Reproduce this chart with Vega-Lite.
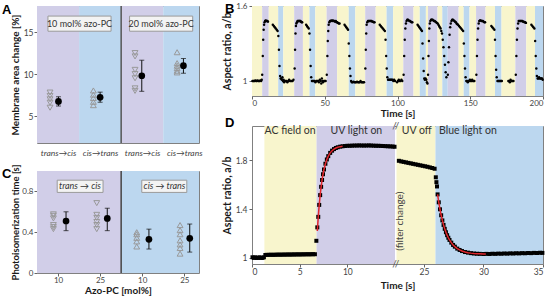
{
"$schema": "https://vega.github.io/schema/vega-lite/v6.json",
"background": "white",
"padding": {"left": 1, "top": 1, "right": 0, "bottom": 0},
"config": {
  "font": "Lato",
  "view": {"stroke": "#808080", "strokeWidth": 1},
  "axis": {"grid": false, "domain": false, "labelColor": "#444", "titleColor": "#1a1a1a", "titleFontWeight": "bold", "tickColor": "#666", "labelFont": "Lato", "titleFont": "Lato", "labelOverlap": false}
},
"datasets": {
  "abands": [{"x0":0,"x1":1,"light":"UV"},{"x0":1,"x1":2,"light":"Blue"},{"x0":2,"x1":3,"light":"UV"},{"x0":3,"x1":3.85,"light":"Blue"}],
  "cbands": [{"x0":0,"x1":2,"light":"UV"},{"x0":2,"x1":3.85,"light":"Blue"}],
  "aboxes": [{"x0":0.26,"x1":1.76,"y0":15.1,"y1":16.9,"xc":1.01,"yc":16.0,"label":"10 mol% azo-PC"},{"x0":2.2,"x1":3.7,"y0":15.1,"y1":16.9,"xc":2.95,"yc":16.0,"label":"20 mol% azo-PC"}],
  "cboxes": [{"x0":0.48,"x1":1.57,"y0":0.79,"y1":0.91,"xc":1.02,"yc":0.85,"label":"trans → cis"},{"x0":2.49,"x1":3.56,"y0":0.79,"y1":0.91,"xc":3.03,"yc":0.85,"label":"cis → trans"}],
  "atri": [
    {"x":0.31,"v":7.8,"dir":"down"},{"x":0.31,"v":7.4,"dir":"down"},{"x":0.31,"v":7.0,"dir":"down"},{"x":0.31,"v":6.6,"dir":"down"},{"x":0.31,"v":6.0,"dir":"down"},
    {"x":1.34,"v":8.05,"dir":"up"},{"x":1.34,"v":7.55,"dir":"up"},{"x":1.34,"v":7.15,"dir":"up"},{"x":1.34,"v":6.7,"dir":"up"},{"x":1.34,"v":6.3,"dir":"up"},
    {"x":2.33,"v":12.5,"dir":"down"},{"x":2.33,"v":12.1,"dir":"down"},{"x":2.33,"v":10.5,"dir":"down"},{"x":2.33,"v":10.0,"dir":"down"},{"x":2.33,"v":9.5,"dir":"down"},{"x":2.33,"v":8.3,"dir":"down"},{"x":2.33,"v":8.0,"dir":"down"},
    {"x":3.33,"v":12.6,"dir":"up"},{"x":3.33,"v":11.3,"dir":"up"},{"x":3.33,"v":11.0,"dir":"up"},{"x":3.33,"v":10.7,"dir":"up"},{"x":3.33,"v":10.4,"dir":"up"},{"x":3.33,"v":10.2,"dir":"up"}
  ],
  "amean": [{"x":0.51,"m":6.75,"lo":6.2,"hi":7.3},{"x":1.5,"m":7.23,"lo":6.65,"hi":7.85},{"x":2.49,"m":9.8,"lo":7.95,"hi":11.65},{"x":3.48,"m":11.0,"lo":10.1,"hi":11.85}],
  "ctri": [
    {"x":0.39,"v":0.575,"dir":"down"},{"x":0.39,"v":0.56,"dir":"down"},{"x":0.39,"v":0.535,"dir":"down"},{"x":0.39,"v":0.47,"dir":"down"},{"x":0.39,"v":0.45,"dir":"down"},{"x":0.39,"v":0.43,"dir":"down"},
    {"x":1.42,"v":0.685,"dir":"down"},{"x":1.42,"v":0.57,"dir":"down"},{"x":1.42,"v":0.54,"dir":"down"},{"x":1.42,"v":0.5,"dir":"down"},{"x":1.42,"v":0.47,"dir":"down"},{"x":1.42,"v":0.43,"dir":"down"},
    {"x":2.37,"v":0.4,"dir":"up"},{"x":2.37,"v":0.38,"dir":"up"},{"x":2.37,"v":0.345,"dir":"up"},{"x":2.37,"v":0.31,"dir":"up"},{"x":2.37,"v":0.26,"dir":"up"},
    {"x":3.4,"v":0.47,"dir":"up"},{"x":3.4,"v":0.42,"dir":"up"},{"x":3.4,"v":0.38,"dir":"up"},{"x":3.4,"v":0.32,"dir":"up"},{"x":3.4,"v":0.28,"dir":"up"},{"x":3.4,"v":0.245,"dir":"up"},{"x":3.4,"v":0.19,"dir":"up"}
  ],
  "cmean": [{"x":0.69,"m":0.51,"lo":0.415,"hi":0.6},{"x":1.67,"m":0.535,"lo":0.415,"hi":0.635},{"x":2.66,"m":0.33,"lo":0.235,"hi":0.43},{"x":3.63,"m":0.34,"lo":0.205,"hi":0.48}],
  "bbands": [
    {"t0":0,"t1":7,"light":"AC"},{"t0":7,"t1":11.5,"light":"UV"},{"t0":11.5,"t1":18,"light":"AC"},{"t0":18,"t1":21.5,"light":"Blue"},
    {"t0":21.5,"t1":29,"light":"AC"},{"t0":29,"t1":35,"light":"UV"},{"t0":35,"t1":39.5,"light":"AC"},{"t0":39.5,"t1":43.5,"light":"Blue"},
    {"t0":43.5,"t1":51.3,"light":"AC"},{"t0":51.3,"t1":58.5,"light":"UV"},{"t0":58.5,"t1":66.5,"light":"AC"},{"t0":66.5,"t1":71,"light":"Blue"},
    {"t0":71,"t1":77.8,"light":"AC"},{"t0":77.8,"t1":85,"light":"UV"},{"t0":85,"t1":92.5,"light":"AC"},{"t0":92.5,"t1":97,"light":"Blue"},
    {"t0":97,"t1":104,"light":"AC"},{"t0":104,"t1":111,"light":"UV"},{"t0":111,"t1":115.3,"light":"AC"},{"t0":115.3,"t1":119.5,"light":"Blue"},
    {"t0":119.5,"t1":121,"light":"AC"},{"t0":121,"t1":127.5,"light":"UV"},{"t0":127.5,"t1":130.8,"light":"AC"},{"t0":130.8,"t1":134.5,"light":"Blue"},
    {"t0":134.5,"t1":142,"light":"UV"},{"t0":142,"t1":145.5,"light":"AC"},{"t0":145.5,"t1":149.5,"light":"Blue"},
    {"t0":149.5,"t1":154,"light":"AC"},{"t0":154,"t1":160.5,"light":"UV"},{"t0":160.5,"t1":167,"light":"AC"},{"t0":167,"t1":171.5,"light":"Blue"},
    {"t0":171.5,"t1":181,"light":"AC"},{"t0":181,"t1":188.5,"light":"UV"},{"t0":188.5,"t1":194.5,"light":"AC"},{"t0":194.5,"t1":200,"light":"Blue"}
  ],
  "bpts": [
    {"t":0.3,"r":1.0},{"t":0.8,"r":1.0},{"t":1.3,"r":1.0},{"t":1.8,"r":1.0},{"t":2.3,"r":1.005},{"t":2.8,"r":1.0},{"t":3.3,"r":1.0},{"t":3.8,"r":1.005},{"t":4.3,"r":1.0},{"t":4.8,"r":1.0},{"t":5.3,"r":1.0},{"t":5.8,"r":1.005},{"t":6.3,"r":1.0},{"t":6.7,"r":1.01},
    {"t":7.0,"r":1.05},{"t":7.4,"r":1.2},{"t":7.7,"r":1.33},{"t":8.0,"r":1.41},{"t":8.3,"r":1.45},{"t":8.6,"r":1.47},
    {"t":9.0,"r":1.48},{"t":9.4,"r":1.485},{"t":9.8,"r":1.48},{"t":10.2,"r":1.48},{"t":10.6,"r":1.48},{"t":11.0,"r":1.475},
    {"t":14.3,"r":1.45},{"t":15.0,"r":1.44},{"t":15.7,"r":1.43},{"t":16.3,"r":1.42},{"t":17.0,"r":1.41},{"t":17.6,"r":1.4},
    {"t":18.1,"r":1.36},{"t":18.5,"r":1.25},{"t":18.9,"r":1.12},{"t":19.3,"r":1.04},{"t":19.7,"r":1.02},
    {"t":20.1,"r":1.02},{"t":20.5,"r":1.01},{"t":20.9,"r":1.03},{"t":21.3,"r":1.0},{"t":21.7,"r":1.01},{"t":22.1,"r":0.99},{"t":22.5,"r":1.0},{"t":23.1,"r":1.0},{"t":23.7,"r":1.0},{"t":24.3,"r":0.99},{"t":24.9,"r":1.0},{"t":25.5,"r":1.01},{"t":26.1,"r":1.0},{"t":26.7,"r":1.0},{"t":27.3,"r":1.0},{"t":27.9,"r":1.0},{"t":28.5,"r":1.01},
    {"t":29.3,"r":1.1},{"t":29.6,"r":1.25},{"t":29.9,"r":1.38},{"t":30.2,"r":1.44},{"t":30.5,"r":1.46},
    {"t":30.9,"r":1.47},{"t":31.3,"r":1.48},{"t":31.7,"r":1.48},{"t":32.1,"r":1.48},{"t":32.5,"r":1.48},{"t":32.9,"r":1.48},{"t":33.3,"r":1.48},{"t":33.7,"r":1.475},{"t":34.1,"r":1.47},{"t":34.5,"r":1.47},
    {"t":37.2,"r":1.45},{"t":37.8,"r":1.44},{"t":38.4,"r":1.43},{"t":39.0,"r":1.42},
    {"t":39.5,"r":1.38},{"t":39.9,"r":1.25},{"t":40.3,"r":1.12},{"t":40.7,"r":1.03},
    {"t":41.2,"r":1.0},{"t":41.8,"r":1.0},{"t":42.4,"r":1.0},{"t":43.0,"r":1.0},{"t":43.6,"r":0.99},{"t":44.2,"r":1.0},{"t":44.8,"r":1.0},{"t":45.4,"r":1.0},{"t":46.0,"r":0.99},{"t":46.6,"r":1.01},{"t":47.2,"r":1.0},{"t":47.6,"r":0.98},{"t":48.0,"r":1.02},{"t":48.4,"r":1.0},{"t":48.8,"r":0.99},{"t":49.4,"r":1.0},{"t":50.0,"r":1.0},{"t":50.6,"r":1.0},
    {"t":51.4,"r":1.05},{"t":51.8,"r":1.2},{"t":52.1,"r":1.32},{"t":52.4,"r":1.4},{"t":52.7,"r":1.45},
    {"t":53.1,"r":1.47},{"t":53.6,"r":1.48},{"t":54.1,"r":1.48},{"t":54.6,"r":1.485},{"t":55.1,"r":1.48},{"t":55.6,"r":1.485},{"t":56.1,"r":1.48},{"t":56.6,"r":1.48},{"t":57.1,"r":1.475},{"t":57.6,"r":1.48},{"t":58.1,"r":1.47},{"t":58.6,"r":1.47},{"t":59.1,"r":1.465},{"t":59.6,"r":1.46},{"t":60.2,"r":1.46},
    {"t":63.6,"r":1.45},{"t":64.2,"r":1.44},{"t":64.8,"r":1.43},{"t":65.4,"r":1.42},{"t":66.0,"r":1.41},
    {"t":66.5,"r":1.3},{"t":66.9,"r":1.2},{"t":67.3,"r":1.1},{"t":67.7,"r":1.04},{"t":68.1,"r":1.0},
    {"t":68.6,"r":0.99},{"t":69.2,"r":0.99},{"t":69.8,"r":0.995},{"t":70.4,"r":0.99},{"t":71.0,"r":0.99},{"t":71.6,"r":0.99},{"t":72.2,"r":0.995},{"t":72.8,"r":0.99},{"t":73.4,"r":0.99},{"t":74.0,"r":0.99},{"t":74.6,"r":1.0},{"t":75.2,"r":0.99},{"t":75.8,"r":0.99},{"t":76.4,"r":0.99},{"t":77.0,"r":0.99},
    {"t":77.9,"r":1.1},{"t":78.2,"r":1.25},{"t":78.5,"r":1.38},{"t":78.8,"r":1.45},
    {"t":79.2,"r":1.47},{"t":79.7,"r":1.48},{"t":80.2,"r":1.48},{"t":80.7,"r":1.48},{"t":81.2,"r":1.48},{"t":81.7,"r":1.48},{"t":82.2,"r":1.48},{"t":82.7,"r":1.475},{"t":83.2,"r":1.475},{"t":83.7,"r":1.47},{"t":84.2,"r":1.47},
    {"t":87.8,"r":1.45},{"t":88.5,"r":1.44},{"t":89.2,"r":1.43},{"t":89.9,"r":1.42},{"t":90.6,"r":1.41},{"t":91.3,"r":1.4},
    {"t":91.8,"r":1.33},{"t":92.2,"r":1.2},{"t":92.6,"r":1.1},{"t":93.0,"r":1.03},
    {"t":93.5,"r":1.01},{"t":94.1,"r":1.01},{"t":94.7,"r":1.01},{"t":95.3,"r":1.01},{"t":95.9,"r":1.01},{"t":96.5,"r":1.01},{"t":97.1,"r":1.0},{"t":97.7,"r":1.01},{"t":98.3,"r":1.0},{"t":99.7,"r":0.99},{"t":100.3,"r":1.0},{"t":100.9,"r":1.01},{"t":101.5,"r":1.0},{"t":102.1,"r":1.0},{"t":102.7,"r":1.01},{"t":103.3,"r":1.0},
    {"t":104.2,"r":1.05},{"t":104.6,"r":1.2},{"t":105.0,"r":1.33},{"t":105.4,"r":1.42},{"t":105.8,"r":1.46},
    {"t":106.2,"r":1.48},{"t":106.7,"r":1.49},{"t":107.2,"r":1.49},{"t":107.7,"r":1.485},{"t":108.2,"r":1.48},{"t":108.7,"r":1.48},{"t":109.2,"r":1.475},{"t":109.7,"r":1.47},{"t":110.2,"r":1.47},
    {"t":113.8,"r":1.45},{"t":114.4,"r":1.44},{"t":115.0,"r":1.43},{"t":115.6,"r":1.42},{"t":116.2,"r":1.41},{"t":116.8,"r":1.4},
    {"t":117.2,"r":1.3},{"t":117.6,"r":1.18},{"t":118.0,"r":1.08},{"t":118.4,"r":1.02},
    {"t":118.8,"r":1.01},{"t":119.3,"r":1.02},{"t":119.8,"r":1.01},{"t":120.2,"r":0.99},{"t":120.6,"r":0.98},
    {"t":121.0,"r":1.05},{"t":121.3,"r":1.2},{"t":121.6,"r":1.32},{"t":121.9,"r":1.42},{"t":122.2,"r":1.46},
    {"t":122.6,"r":1.48},{"t":123.1,"r":1.49},{"t":123.6,"r":1.49},{"t":124.1,"r":1.49},{"t":124.6,"r":1.485},{"t":125.1,"r":1.48},{"t":125.6,"r":1.48},{"t":126.1,"r":1.475},{"t":126.6,"r":1.47},{"t":127.1,"r":1.465},
    {"t":127.6,"r":1.46},{"t":128.1,"r":1.45},{"t":128.6,"r":1.44},{"t":129.1,"r":1.43},{"t":129.6,"r":1.42},{"t":130.1,"r":1.4},{"t":130.6,"r":1.38},
    {"t":131.1,"r":1.33},{"t":131.6,"r":1.27},{"t":132.1,"r":1.2},{"t":132.6,"r":1.13},{"t":133.1,"r":1.07},{"t":133.6,"r":1.03},
    {"t":134.6,"r":1.05},{"t":135.0,"r":1.15},{"t":135.4,"r":1.27},{"t":135.8,"r":1.37},{"t":136.2,"r":1.43},{"t":136.6,"r":1.46},
    {"t":137.1,"r":1.48},{"t":137.6,"r":1.49},{"t":138.1,"r":1.49},{"t":138.6,"r":1.485},{"t":139.1,"r":1.48},{"t":139.6,"r":1.475},{"t":140.1,"r":1.47},{"t":140.6,"r":1.46},{"t":141.1,"r":1.455},{"t":141.6,"r":1.45},
    {"t":142.3,"r":1.44},{"t":143.0,"r":1.43},{"t":143.7,"r":1.42},{"t":144.4,"r":1.41},{"t":145.1,"r":1.4},
    {"t":145.6,"r":1.3},{"t":146.0,"r":1.2},{"t":146.4,"r":1.1},{"t":146.8,"r":1.03},
    {"t":147.3,"r":1.0},{"t":147.8,"r":1.0},{"t":148.3,"r":0.99},{"t":148.8,"r":1.0},{"t":149.3,"r":1.0},{"t":149.8,"r":1.01},{"t":150.3,"r":1.0},{"t":150.8,"r":1.0},{"t":151.3,"r":1.01},{"t":151.8,"r":1.0},{"t":152.3,"r":1.0},{"t":152.8,"r":1.0},
    {"t":154.2,"r":1.05},{"t":154.6,"r":1.2},{"t":155.0,"r":1.33},{"t":155.4,"r":1.42},{"t":155.8,"r":1.46},
    {"t":156.2,"r":1.48},{"t":156.7,"r":1.485},{"t":157.2,"r":1.485},{"t":157.7,"r":1.48},{"t":158.2,"r":1.48},{"t":158.7,"r":1.48},{"t":159.2,"r":1.475},{"t":159.7,"r":1.47},{"t":160.2,"r":1.47},
    {"t":164.5,"r":1.44},{"t":165.2,"r":1.43},{"t":165.9,"r":1.42},{"t":166.6,"r":1.41},
    {"t":167.0,"r":1.33},{"t":167.4,"r":1.2},{"t":167.8,"r":1.09},{"t":168.2,"r":1.03},
    {"t":168.7,"r":1.0},{"t":169.2,"r":1.0},{"t":169.7,"r":1.0},{"t":170.2,"r":1.0},{"t":170.7,"r":1.0},{"t":171.2,"r":1.0},{"t":171.7,"r":1.0},
    {"t":176.2,"r":1.0},{"t":176.7,"r":1.0},{"t":177.2,"r":0.99},{"t":177.7,"r":1.01},{"t":178.2,"r":1.0},{"t":178.7,"r":1.0},{"t":179.2,"r":1.0},{"t":179.7,"r":1.0},
    {"t":181.3,"r":1.05},{"t":181.7,"r":1.2},{"t":182.1,"r":1.33},{"t":182.5,"r":1.42},{"t":182.9,"r":1.46},
    {"t":183.3,"r":1.48},{"t":183.8,"r":1.48},{"t":184.3,"r":1.48},{"t":184.8,"r":1.48},{"t":185.3,"r":1.48},{"t":185.8,"r":1.48},{"t":186.3,"r":1.475},{"t":186.8,"r":1.475},{"t":187.3,"r":1.47},{"t":187.8,"r":1.47},{"t":188.3,"r":1.465},
    {"t":192.0,"r":1.45},{"t":192.7,"r":1.44},{"t":193.4,"r":1.43},{"t":194.1,"r":1.42},
    {"t":194.6,"r":1.32},{"t":195.0,"r":1.2},{"t":195.4,"r":1.1},{"t":195.8,"r":1.04},
    {"t":196.3,"r":1.02},{"t":196.8,"r":1.02},{"t":197.3,"r":1.03},{"t":197.8,"r":1.02},{"t":198.3,"r":1.02},{"t":198.8,"r":1.02},{"t":199.3,"r":1.02},{"t":199.8,"r":1.01}
  ],
  "dbands": [{"t0":1.3,"t1":6.77,"light":"AC"},{"t0":6.77,"t1":15,"light":"UV"},{"t0":22.7,"t1":25.97,"light":"AC"},{"t0":25.97,"t1":35,"light":"Blue"}],
  "dpts": [
    {"t":0.05,"r":1.005},{"t":0.2,"r":1.0},{"t":0.35,"r":1.005},{"t":0.5,"r":1.0},{"t":0.65,"r":1.0},{"t":0.8,"r":1.005},{"t":0.95,"r":1.0},{"t":1.1,"r":1.0},{"t":1.25,"r":1.005},
    {"t":1.4,"r":1.024},{"t":1.6,"r":1.025},{"t":1.8,"r":1.025},{"t":2.0,"r":1.026},{"t":2.2,"r":1.025},{"t":2.4,"r":1.026},{"t":2.6,"r":1.026},{"t":2.8,"r":1.027},{"t":3.0,"r":1.026},{"t":3.2,"r":1.027},{"t":3.4,"r":1.027},{"t":3.6,"r":1.027},{"t":3.8,"r":1.028},{"t":4.0,"r":1.027},{"t":4.2,"r":1.028},{"t":4.4,"r":1.028},{"t":4.6,"r":1.028},{"t":4.8,"r":1.029},{"t":5.0,"r":1.028},{"t":5.2,"r":1.029},{"t":5.4,"r":1.029},{"t":5.6,"r":1.029},{"t":5.8,"r":1.03},{"t":6.0,"r":1.029},{"t":6.2,"r":1.03},{"t":6.4,"r":1.03},{"t":6.6,"r":1.03},
    {"t":6.75,"r":1.14},{"t":6.85,"r":1.25},{"t":6.95,"r":1.336},{"t":7.05,"r":1.434},{"t":7.15,"r":1.514},{"t":7.25,"r":1.582},{"t":7.35,"r":1.638},{"t":7.45,"r":1.685},{"t":7.55,"r":1.724},{"t":7.7,"r":1.771},{"t":7.85,"r":1.806},{"t":8.0,"r":1.833},{"t":8.2,"r":1.86},{"t":8.4,"r":1.878},{"t":8.6,"r":1.891},{"t":8.8,"r":1.9},{"t":9.0,"r":1.906},{"t":9.25,"r":1.911},{"t":9.5,"r":1.914},{"t":9.75,"r":1.916},{"t":10.0,"r":1.918},
    {"t":10.25,"r":1.918},{"t":10.5,"r":1.919},{"t":10.75,"r":1.92},{"t":11.0,"r":1.92},{"t":11.25,"r":1.921},{"t":11.5,"r":1.92},{"t":11.75,"r":1.92},{"t":12.0,"r":1.92},{"t":12.25,"r":1.921},{"t":12.5,"r":1.92},{"t":12.75,"r":1.919},{"t":13.0,"r":1.918},{"t":13.25,"r":1.918},{"t":13.5,"r":1.917},{"t":13.75,"r":1.916},{"t":14.0,"r":1.915},{"t":14.25,"r":1.914},{"t":14.5,"r":1.913},{"t":14.75,"r":1.912},{"t":14.95,"r":1.91},
    {"t":22.9,"r":1.795},{"t":23.1,"r":1.79},{"t":23.3,"r":1.786},{"t":23.5,"r":1.782},{"t":23.7,"r":1.778},{"t":23.9,"r":1.774},{"t":24.1,"r":1.77},{"t":24.3,"r":1.766},{"t":24.5,"r":1.762},{"t":24.7,"r":1.758},{"t":24.9,"r":1.754},{"t":25.1,"r":1.75},{"t":25.3,"r":1.746},{"t":25.5,"r":1.741},{"t":25.7,"r":1.736},{"t":25.9,"r":1.73},
    {"t":26.0,"r":1.66},{"t":26.05,"r":1.62},{"t":26.1,"r":1.585},{"t":26.15,"r":1.52},{"t":26.25,"r":1.455},{"t":26.35,"r":1.398},{"t":26.45,"r":1.349},{"t":26.55,"r":1.307},{"t":26.65,"r":1.27},{"t":26.75,"r":1.238},{"t":26.85,"r":1.21},{"t":26.95,"r":1.186},{"t":27.05,"r":1.165},{"t":27.15,"r":1.147},{"t":27.3,"r":1.125},{"t":27.45,"r":1.106},{"t":27.6,"r":1.092},{"t":27.8,"r":1.076},{"t":28.0,"r":1.065},{"t":28.2,"r":1.056},{"t":28.45,"r":1.048},{"t":28.7,"r":1.043},{"t":28.95,"r":1.039},{"t":29.2,"r":1.036},{"t":29.45,"r":1.034},{"t":29.7,"r":1.033},{"t":30.0,"r":1.032},
    {"t":30.25,"r":1.033},{"t":30.5,"r":1.032},{"t":30.75,"r":1.034},{"t":31.0,"r":1.033},{"t":31.25,"r":1.035},{"t":31.5,"r":1.034},{"t":31.75,"r":1.036},{"t":32.0,"r":1.035},{"t":32.25,"r":1.037},{"t":32.5,"r":1.036},{"t":32.75,"r":1.038},{"t":33.0,"r":1.037},{"t":33.25,"r":1.039},{"t":33.5,"r":1.038},{"t":33.75,"r":1.04},{"t":34.0,"r":1.039},{"t":34.25,"r":1.041},{"t":34.5,"r":1.04},{"t":34.75,"r":1.042},{"t":34.95,"r":1.041}
  ],
  "dfit": [
    {"seg":"rise","t":6.85,"r":1.22},{"seg":"rise","t":6.95,"r":1.336},{"seg":"rise","t":7.05,"r":1.434},{"seg":"rise","t":7.15,"r":1.514},{"seg":"rise","t":7.25,"r":1.582},{"seg":"rise","t":7.35,"r":1.638},{"seg":"rise","t":7.45,"r":1.685},{"seg":"rise","t":7.55,"r":1.724},{"seg":"rise","t":7.7,"r":1.771},{"seg":"rise","t":7.85,"r":1.806},{"seg":"rise","t":8.0,"r":1.833},{"seg":"rise","t":8.2,"r":1.86},{"seg":"rise","t":8.4,"r":1.878},{"seg":"rise","t":8.6,"r":1.891},{"seg":"rise","t":8.8,"r":1.9},{"seg":"rise","t":9.0,"r":1.906},{"seg":"rise","t":9.25,"r":1.911},{"seg":"rise","t":9.5,"r":1.914},
    {"seg":"fall","t":26.15,"r":1.52},{"seg":"fall","t":26.25,"r":1.455},{"seg":"fall","t":26.35,"r":1.398},{"seg":"fall","t":26.45,"r":1.349},{"seg":"fall","t":26.55,"r":1.307},{"seg":"fall","t":26.65,"r":1.27},{"seg":"fall","t":26.75,"r":1.238},{"seg":"fall","t":26.85,"r":1.21},{"seg":"fall","t":26.95,"r":1.186},{"seg":"fall","t":27.05,"r":1.165},{"seg":"fall","t":27.15,"r":1.147},{"seg":"fall","t":27.3,"r":1.125},{"seg":"fall","t":27.45,"r":1.106},{"seg":"fall","t":27.6,"r":1.092},{"seg":"fall","t":27.8,"r":1.076},{"seg":"fall","t":28.0,"r":1.065},{"seg":"fall","t":28.2,"r":1.056},{"seg":"fall","t":28.45,"r":1.048},{"seg":"fall","t":28.7,"r":1.043},{"seg":"fall","t":28.95,"r":1.039},{"seg":"fall","t":29.2,"r":1.036},{"seg":"fall","t":29.45,"r":1.034},{"seg":"fall","t":29.7,"r":1.033},{"seg":"fall","t":30.0,"r":1.032},{"seg":"fall","t":30.2,"r":1.032}
  ],
  "dlabels": [{"t":4.0,"r":2.037,"label":"AC field on"},{"t":10.95,"r":2.037,"label":"UV light on"},{"t":24.4,"r":2.037,"label":"UV off"},{"t":28.7,"r":2.037,"label":"Blue light on"}],
  "dbreak": [{"t":18.85,"r":2.08},{"t":18.85,"r":0.95}],
  "dnote": [{"t":23.0,"r":1.3,"label":"(filter change)"}]
},
"spacing": 18,
"hconcat": [
  {
    "spacing": 6,
    "vconcat": [
      {
        "width": 162, "height": 137,
        "layer": [
          {"data": {"name": "abands"}, "mark": {"type": "rect"},
           "encoding": {
             "x": {"field": "x0", "type": "quantitative", "title": null, "scale": {"domain": [0, 3.85], "nice": false, "zero": false},
                   "axis": {"values": [0.5, 1.5, 2.5, 3.5], "labelExpr": "(datum.value == 0.5 || datum.value == 2.5) ? 'trans→cis' : 'cis→trans'", "labelFontStyle": "italic", "ticks": false, "labelFontSize": 8.5, "labelPadding": 5}},
             "x2": {"field": "x1"},
             "color": {"field": "light", "type": "nominal", "scale": {"domain": ["AC", "UV", "Blue"], "range": ["#f8f5cd", "#d1cee8", "#bcd7ef"]}, "legend": null}}},
          {"data": {"values": [{"p": "A"}]}, "mark": {"type": "rule", "color": "#555", "strokeWidth": 1.5},
           "encoding": {"x": {"datum": 2, "type": "quantitative", "title": null}}},
          {"data": {"name": "aboxes"}, "mark": {"type": "rect", "fill": "#f3f3f3", "stroke": "#9a9a9a", "strokeWidth": 1},
           "encoding": {
             "x": {"field": "x0", "type": "quantitative", "title": null}, "x2": {"field": "x1"},
             "y": {"field": "y0", "type": "quantitative", "title": "Membrane area change [%]", "scale": {"domain": [1.8, 18.1], "nice": false, "zero": false},
                   "axis": {"values": [5, 10, 15], "tickSize": 3, "labelFontSize": 8.5, "titleFontSize": 10, "labelPadding": 1, "titlePadding": 3}},
             "y2": {"field": "y1"}}},
          {"data": {"name": "aboxes"}, "mark": {"type": "text", "fontSize": 9, "color": "#333"},
           "encoding": {"x": {"field": "xc", "type": "quantitative", "title": null}, "y": {"field": "yc", "type": "quantitative", "title": "Membrane area change [%]"}, "text": {"field": "label"}}},
          {"data": {"name": "atri"}, "mark": {"type": "point", "filled": false, "size": 34, "strokeWidth": 1, "color": "#999", "opacity": 1},
           "encoding": {"x": {"field": "x", "type": "quantitative", "title": null}, "y": {"field": "v", "type": "quantitative", "title": "Membrane area change [%]"},
             "shape": {"field": "dir", "type": "nominal", "scale": {"domain": ["down", "up"], "range": ["triangle-down", "triangle-up"]}, "legend": null}}},
          {"data": {"name": "amean"}, "mark": {"type": "rule", "color": "#111", "strokeWidth": 1},
           "encoding": {"x": {"field": "x", "type": "quantitative", "title": null}, "y": {"field": "lo", "type": "quantitative", "title": "Membrane area change [%]"}, "y2": {"field": "hi"}}},
          {"data": {"name": "amean"}, "mark": {"type": "tick", "orient": "horizontal", "size": 5, "thickness": 1, "color": "#111"},
           "encoding": {"x": {"field": "x", "type": "quantitative", "title": null}, "y": {"field": "lo", "type": "quantitative", "title": "Membrane area change [%]"}}},
          {"data": {"name": "amean"}, "mark": {"type": "tick", "orient": "horizontal", "size": 5, "thickness": 1, "color": "#111"},
           "encoding": {"x": {"field": "x", "type": "quantitative", "title": null}, "y": {"field": "hi", "type": "quantitative", "title": "Membrane area change [%]"}}},
          {"data": {"name": "amean"}, "mark": {"type": "circle", "size": 45, "color": "#000", "opacity": 1},
           "encoding": {"x": {"field": "x", "type": "quantitative", "title": null}, "y": {"field": "m", "type": "quantitative", "title": "Membrane area change [%]"}}},
          {"data": {"values": [{"p": "A"}]}, "mark": {"type": "text", "font": "Liberation Sans", "fontWeight": "bold", "fontSize": 13, "color": "#000", "align": "left", "baseline": "middle", "dx": -35, "dy": 4},
           "encoding": {"x": {"datum": 0, "type": "quantitative", "title": null}, "y": {"datum": 18.1, "type": "quantitative", "title": "Membrane area change [%]"}, "text": {"field": "p"}}}
        ]
      },
      {
        "width": 162, "height": 102,
        "layer": [
          {"data": {"name": "cbands"}, "mark": {"type": "rect"},
           "encoding": {
             "x": {"field": "x0", "type": "quantitative", "title": "Azo-PC [mol%]", "scale": {"domain": [0, 3.85], "nice": false, "zero": false},
                   "axis": {"values": [0.5, 1.5, 2.5, 3.5], "labelExpr": "(datum.value < 1 || (datum.value > 2 && datum.value < 3)) ? '10' : '25'", "tickSize": 3, "labelFontSize": 8, "labelPadding": 0, "titleFontSize": 10, "titlePadding": 1}},
             "x2": {"field": "x1"},
             "color": {"field": "light", "type": "nominal", "scale": {"domain": ["AC", "UV", "Blue"], "range": ["#f8f5cd", "#d1cee8", "#bcd7ef"]}, "legend": null}}},
          {"data": {"values": [{"p": "C"}]}, "mark": {"type": "rule", "color": "#444", "strokeWidth": 1.5},
           "encoding": {"x": {"datum": 2, "type": "quantitative", "title": "Azo-PC [mol%]"}}},
          {"data": {"name": "cboxes"}, "mark": {"type": "rect", "fill": "#f3f3f3", "stroke": "#9a9a9a", "strokeWidth": 1},
           "encoding": {
             "x": {"field": "x0", "type": "quantitative", "title": "Azo-PC [mol%]"}, "x2": {"field": "x1"},
             "y": {"field": "y0", "type": "quantitative", "title": "Photoisomerization time [s]", "scale": {"domain": [0, 1], "nice": false, "zero": false},
                   "axis": {"values": [0, 0.2, 0.4, 0.6, 0.8, 1], "format": "~g", "tickSize": 3, "labelFontSize": 8, "titleFontSize": 9.5, "labelPadding": 1, "titlePadding": 1}},
             "y2": {"field": "y1"}}},
          {"data": {"name": "cboxes"}, "mark": {"type": "text", "fontSize": 9, "fontStyle": "italic", "color": "#333"},
           "encoding": {"x": {"field": "xc", "type": "quantitative", "title": "Azo-PC [mol%]"}, "y": {"field": "yc", "type": "quantitative", "title": "Photoisomerization time [s]"}, "text": {"field": "label"}}},
          {"data": {"name": "ctri"}, "mark": {"type": "point", "filled": false, "size": 34, "strokeWidth": 1, "color": "#999", "opacity": 1},
           "encoding": {"x": {"field": "x", "type": "quantitative", "title": "Azo-PC [mol%]"}, "y": {"field": "v", "type": "quantitative", "title": "Photoisomerization time [s]"},
             "shape": {"field": "dir", "type": "nominal", "scale": {"domain": ["down", "up"], "range": ["triangle-down", "triangle-up"]}, "legend": null}}},
          {"data": {"name": "cmean"}, "mark": {"type": "rule", "color": "#111", "strokeWidth": 1},
           "encoding": {"x": {"field": "x", "type": "quantitative", "title": "Azo-PC [mol%]"}, "y": {"field": "lo", "type": "quantitative", "title": "Photoisomerization time [s]"}, "y2": {"field": "hi"}}},
          {"data": {"name": "cmean"}, "mark": {"type": "tick", "orient": "horizontal", "size": 5, "thickness": 1, "color": "#111"},
           "encoding": {"x": {"field": "x", "type": "quantitative", "title": "Azo-PC [mol%]"}, "y": {"field": "lo", "type": "quantitative", "title": "Photoisomerization time [s]"}}},
          {"data": {"name": "cmean"}, "mark": {"type": "tick", "orient": "horizontal", "size": 5, "thickness": 1, "color": "#111"},
           "encoding": {"x": {"field": "x", "type": "quantitative", "title": "Azo-PC [mol%]"}, "y": {"field": "hi", "type": "quantitative", "title": "Photoisomerization time [s]"}}},
          {"data": {"name": "cmean"}, "mark": {"type": "circle", "size": 45, "color": "#000", "opacity": 1},
           "encoding": {"x": {"field": "x", "type": "quantitative", "title": "Azo-PC [mol%]"}, "y": {"field": "m", "type": "quantitative", "title": "Photoisomerization time [s]"}}},
          {"data": {"values": [{"p": "C"}]}, "mark": {"type": "text", "font": "Liberation Sans", "fontWeight": "bold", "fontSize": 13, "color": "#000", "align": "left", "baseline": "middle", "dx": -35, "dy": 3},
           "encoding": {"x": {"datum": 0, "type": "quantitative", "title": "Azo-PC [mol%]"}, "y": {"datum": 1, "type": "quantitative", "title": "Photoisomerization time [s]"}, "text": {"field": "p"}}}
        ]
      }
    ]
  },
  {
    "spacing": -3,
    "vconcat": [
      {
        "width": 291, "height": 90,
        "layer": [
          {"data": {"name": "bbands"}, "mark": {"type": "rect"},
           "encoding": {
             "x": {"field": "t0", "type": "quantitative", "title": "Time [s]", "scale": {"domain": [0, 200], "nice": false, "zero": false},
                   "axis": {"values": [0, 50, 100, 150, 200], "tickSize": 3, "labelFontSize": 8, "labelPadding": 0, "titleFontSize": 10, "titlePadding": 1}},
             "x2": {"field": "t1"},
             "color": {"field": "light", "type": "nominal", "scale": {"domain": ["AC", "UV", "Blue"], "range": ["#f8f5cd", "#d1cee8", "#bcd7ef"]}, "legend": null}}},
          {"data": {"name": "bpts"}, "mark": {"type": "circle", "size": 6, "color": "#000", "opacity": 1},
           "encoding": {
             "x": {"field": "t", "type": "quantitative", "title": "Time [s]"},
             "y": {"field": "r", "type": "quantitative", "title": "Aspect ratio, a/b", "scale": {"domain": [0.88, 1.6], "nice": false, "zero": false},
                   "axis": {"values": [1, 1.2, 1.4, 1.6], "format": "~g", "tickSize": 3, "labelFontSize": 8, "titleFontSize": 10.5, "labelPadding": 2, "titlePadding": 3}}}},
          {"data": {"values": [{"p": "B"}]}, "mark": {"type": "text", "font": "Liberation Sans", "fontWeight": "bold", "fontSize": 13, "color": "#000", "align": "left", "baseline": "middle", "dx": -27, "dy": 3},
           "encoding": {"x": {"datum": 0, "type": "quantitative", "title": "Time [s]"}, "y": {"datum": 1.6, "type": "quantitative", "title": "Aspect ratio, a/b"}, "text": {"field": "p"}}}
        ]
      },
      {
        "width": 291, "height": 138,
        "layer": [
          {"data": {"name": "dbands"}, "mark": {"type": "rect"},
           "encoding": {
             "x": {"field": "t0", "type": "quantitative", "title": "Time [s]", "scale": {"domain": [0, 15, 22.7, 35], "range": [0, 143, 144.5, 291], "nice": false, "zero": false},
                   "axis": {"values": [0, 5, 10, 25, 30, 35], "tickSize": 3, "labelFontSize": 8.5, "labelPadding": 0, "titleFontSize": 10, "titlePadding": 5}},
             "x2": {"field": "t1"},
             "color": {"field": "light", "type": "nominal", "scale": {"domain": ["AC", "UV", "Blue"], "range": ["#f8f5cd", "#d1cee8", "#bcd7ef"]}, "legend": null}}},
          {"data": {"name": "dpts"}, "mark": {"type": "square", "size": 16, "color": "#000", "opacity": 1},
           "encoding": {
             "x": {"field": "t", "type": "quantitative", "title": "Time [s]"},
             "y": {"field": "r", "type": "quantitative", "title": "Aspect ratio, a/b", "scale": {"domain": [0.95, 2.08], "nice": false, "zero": false},
                   "axis": {"values": [1, 1.2, 1.4, 1.6, 1.8, 2], "format": "~g", "tickSize": 3, "labelFontSize": 8.5, "titleFontSize": 10.5, "labelPadding": 2, "titlePadding": 3}}}},
          {"data": {"name": "dfit"}, "mark": {"type": "line", "color": "#e0262c", "strokeWidth": 1.5},
           "encoding": {"x": {"field": "t", "type": "quantitative", "title": "Time [s]"}, "y": {"field": "r", "type": "quantitative", "title": "Aspect ratio, a/b"}, "detail": {"field": "seg"}}},
          {"data": {"name": "dlabels"}, "mark": {"type": "text", "fontSize": 10.5, "color": "#333"},
           "encoding": {"x": {"field": "t", "type": "quantitative", "title": "Time [s]"}, "y": {"field": "r", "type": "quantitative", "title": "Aspect ratio, a/b"}, "text": {"field": "label"}}},
          {"data": {"name": "dnote"}, "mark": {"type": "text", "fontSize": 10, "color": "#444", "angle": 270},
           "encoding": {"x": {"field": "t", "type": "quantitative", "title": "Time [s]"}, "y": {"field": "r", "type": "quantitative", "title": "Aspect ratio, a/b"}, "text": {"field": "label"}}},
          {"data": {"name": "dbreak"}, "mark": {"type": "text", "fontSize": 10, "color": "#555", "text": "//"},
           "encoding": {"x": {"field": "t", "type": "quantitative", "title": "Time [s]"}, "y": {"field": "r", "type": "quantitative", "title": "Aspect ratio, a/b"}}},
          {"data": {"values": [{"p": "D"}]}, "mark": {"type": "text", "font": "Liberation Sans", "fontWeight": "bold", "fontSize": 13, "color": "#000", "align": "left", "baseline": "middle", "dx": -27, "dy": -3.5},
           "encoding": {"x": {"datum": 0, "type": "quantitative", "title": "Time [s]"}, "y": {"datum": 2.08, "type": "quantitative", "title": "Aspect ratio, a/b"}, "text": {"field": "p"}}}
        ]
      }
    ]
  }
]
}
